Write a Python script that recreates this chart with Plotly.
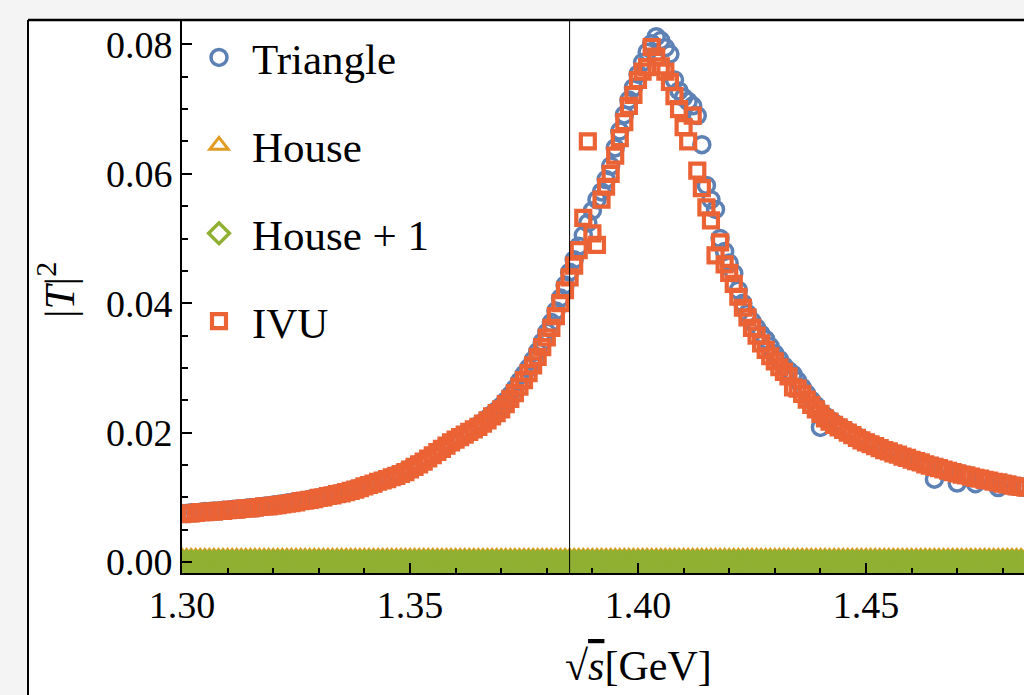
import numpy as np
import plotly.graph_objects as go

# sampling grid in sqrt(s) [GeV], 1 MeV steps (1.300 ... 1.485)
energy_mev = list(range(1300, 1486))
sqrt_s = [m / 1000 for m in energy_mev]

# |T|^2 for the "Triangle" scheme
triangle = [
    .0075, .0075, .0076, .0076, .0077, .0078, .0078, .0079, .0079, .0080,
    .0080, .0081, .0082, .0082, .0083, .0084, .0084, .0085, .0086, .0087,
    .0088, .0089, .0090, .0091, .0092, .0093, .0094, .0095, .0097, .0098,
    .0099, .0101, .0102, .0104, .0105, .0107, .0109, .0111, .0113, .0115,
    .0117, .0119, .0122, .0124, .0127, .0129, .0132, .0135, .0138, .0141,
    .0144, .0148, .0152, .0156, .0160, .0165, .0170, .0174, .0179, .0184,
    .0188, .0193, .0197, .0201, .0206, .0211, .0216, .0222, .0228, .0234,
    .0241, .0249, .0258, .0268, .0279, .0290, .0300, .0312, .0325, .0340,
    .0355, .0370, .0388, .0408, .0428, .0448, .0467, .0488, .0505, .0524,
    .0543, .0560, .0572, .0591, .0612, .0640, .0666, .0691, .0714, .0733,
    .0754, .0772, .0788, .0801, .0812, .0806, .0795, .0785, .0745, .0728,
    .0718, .0712, .0705, .0690, .0645, .0582, .0560, .0545, .0500, .0480,
    .0462, .0446, .0420, .0400, .0384, .0372, .0362, .0352, .0344, .0333,
    .0322, .0313, .0303, .0296, .0290, .0280, .0270, .0260, .0250, .0242,
    .0208, .0226, .0220, .0215, .0210, .0206, .0202, .0198, .0194, .0190,
    .0186, .0183, .0180, .0177, .0174, .0171, .0168, .0166, .0163, .0161,
    .0158, .0156, .0154, .0151, .0149, .0128, .0146, .0143, .0141, .0139,
    .0122, .0136, .0134, .0132, .0121, .0129, .0127, .0126, .0124, .0115,
    .0121, .0120, .0118, .0117, .0116, .0115,
]

# |T|^2 for the "IVU" scheme
ivu = [
    .0074, .0075, .0075, .0076, .0077, .0077, .0078, .0078, .0079, .0079,
    .0080, .0081, .0081, .0082, .0083, .0083, .0084, .0085, .0086, .0086,
    .0087, .0088, .0089, .0090, .0091, .0092, .0094, .0095, .0096, .0097,
    .0099, .0100, .0102, .0103, .0105, .0106, .0108, .0110, .0112, .0114,
    .0117, .0119, .0121, .0124, .0126, .0128, .0131, .0133, .0136, .0139,
    .0143, .0147, .0151, .0155, .0160, .0165, .0170, .0175, .0180, .0185,
    .0189, .0193, .0197, .0201, .0205, .0209, .0214, .0219, .0225, .0230,
    .0236, .0244, .0252, .0261, .0271, .0281, .0292, .0304, .0317, .0332,
    .0347, .0362, .0380, .0400, .0420, .0440, .0458, .0482, .0532, .0650,
    .0508, .0490, .0560, .0580, .0600, .0628, .0655, .0680, .0705, .0722,
    .0745, .0758, .0765, .0796, .0781, .0766, .0758, .0742, .0720, .0700,
    .0672, .0650, .0690, .0605, .0578, .0548, .0528, .0474, .0494, .0460,
    .0447, .0430, .0410, .0393, .0378, .0362, .0350, .0338, .0328, .0318,
    .0310, .0301, .0294, .0287, .0270, .0268, .0260, .0251, .0243, .0236,
    .0229, .0222, .0217, .0212, .0208, .0204, .0200, .0196, .0192, .0188,
    .0185, .0182, .0179, .0176, .0173, .0171, .0168, .0166, .0163, .0161,
    .0158, .0156, .0154, .0151, .0149, .0147, .0145, .0143, .0141, .0139,
    .0137, .0135, .0134, .0132, .0130, .0129, .0127, .0126, .0124, .0123,
    .0121, .0120, .0118, .0117, .0116, .0115,
]

# "House" and "House + 1" lie on zero over the whole range
house = [0.0 for _ in sqrt_s]
house_plus_1 = [0.0 for _ in sqrt_s]

threshold = 1.385          # vertical reference line
x_ticks = [1.30, 1.35, 1.40, 1.45]
y_ticks = [0.00, 0.02, 0.04, 0.06, 0.08]

BLUE, ORANGE, GREEN, RED = "#5E81B5", "#E19C24", "#8FB032", "#EB6235"
FONT = "Liberation Serif"

fig = go.Figure()
fig.add_trace(go.Scatter(x=sqrt_s, y=triangle, mode="markers", name="Triangle",
                         legendgroup="a",
                         marker=dict(symbol="circle-open", size=16, color=BLUE,
                                     line=dict(width=3.5, color=BLUE))))
fig.add_trace(go.Scatter(x=sqrt_s, y=house, mode="markers", name="House",
                         legendgroup="b",
                         marker=dict(symbol="triangle-up-open", size=25, color=ORANGE,
                                     line=dict(width=3, color=ORANGE))))
fig.add_trace(go.Scatter(x=sqrt_s, y=house_plus_1, mode="markers", name="House + 1",
                         legendgroup="c",
                         marker=dict(symbol="diamond-open", size=16.5, color=GREEN,
                                     line=dict(width=3.5, color=GREEN))))
fig.add_trace(go.Scatter(x=sqrt_s, y=ivu, mode="markers", name="IVU",
                         legendgroup="d",
                         marker=dict(symbol="square-open", size=14, color=RED,
                                     line=dict(width=4.2, color=RED))))

W, H = 1024, 695
L, R, T, B = 182, 0, 20, 122
pw, ph = W - L - R, H - T - B
px_per_x = 4560.0
px_per_y = 6470.0
x_range = [1.30, 1.30 + pw / px_per_x]
y0_px = 562 - T
y_range = [-(ph - y0_px) / px_per_y, y0_px / px_per_y]

def px2paper_x(px):
    return (px - L) / pw

def px2paper_y(py):
    return (T + ph - py) / ph

fig.update_layout(
    width=W, height=H,
    margin=dict(l=L, r=R, t=T, b=B, pad=0),
    paper_bgcolor="#F3F4F3",
    plot_bgcolor="rgba(0,0,0,0)",
    font=dict(family=FONT, size=38, color="black"),
    showlegend=True,
    legend=dict(x=px2paper_x(186), y=px2paper_y(23), xanchor="left", yanchor="top",
                bgcolor="rgba(0,0,0,0)", borderwidth=0,
                font=dict(family=FONT, size=43, color="black"),
                tracegroupgap=29, itemsizing="trace", itemwidth=56),
    xaxis=dict(range=x_range, showline=True, linecolor="black", linewidth=2,
               showgrid=False, zeroline=False, ticks="inside", ticklen=10,
               tickwidth=2, tickcolor="black", tickvals=x_ticks,
               ticktext=[f"{v:.2f}" for v in x_ticks], ticklabelstandoff=-3,
               tickfont=dict(family=FONT, size=38),
               minor=dict(ticks="inside", ticklen=5, tickwidth=1.5,
                          tickcolor="black", dtick=0.01, tick0=1.30)),
    yaxis=dict(range=y_range, showline=True, linecolor="black", linewidth=2,
               showgrid=False, zeroline=False, ticks="inside", ticklen=10,
               tickwidth=2, tickcolor="black", tickvals=y_ticks,
               ticktext=[f"{v:.2f}" for v in y_ticks], ticklabelstandoff=0,
               tickfont=dict(family=FONT, size=38),
               minor=dict(ticks="inside", ticklen=6, tickwidth=1.5,
                          tickcolor="black", dtick=0.005, tick0=0)),
    shapes=[
        dict(type="rect", xref="paper", yref="paper",
             x0=px2paper_x(28), x1=1.2, y0=-0.5, y1=1.0,
             fillcolor="white", line=dict(width=0), layer="below"),
        dict(type="line", xref="paper", yref="paper",
             x0=px2paper_x(28), x1=1.2, y0=1.0, y1=1.0,
             line=dict(color="black", width=2.5), layer="above"),
        dict(type="line", xref="paper", yref="paper",
             x0=px2paper_x(28), x1=px2paper_x(28), y0=-0.5, y1=1.0,
             line=dict(color="black", width=2), layer="above"),
        dict(type="line", xref="x", yref="paper",
             x0=threshold, x1=threshold, y0=0, y1=1,
             line=dict(color="black", width=1), layer="above"),
    ],
    annotations=[
        dict(text="|<i>T</i>|<sup>2</sup>", xref="paper", yref="paper",
             x=px2paper_x(56), y=px2paper_y(290), textangle=-90,
             showarrow=False, xanchor="center", yanchor="middle",
             font=dict(family=FONT, size=43, color="black")),
        dict(text="√<span style='text-decoration:overline'><i>s</i></span>[GeV]",
             xref="x", yref="paper", x=1.40, y=px2paper_y(666),
             showarrow=False, xanchor="center", yanchor="middle",
             font=dict(family=FONT, size=42, color="black")),
    ],
)

fig.write_html(
    "out.html",
    config={"displayModeBar": False},
    post_script=("document.body.style.margin='0';"
                 "document.body.style.overflow='hidden';"
                 "document.documentElement.style.overflow='hidden';"),
)
